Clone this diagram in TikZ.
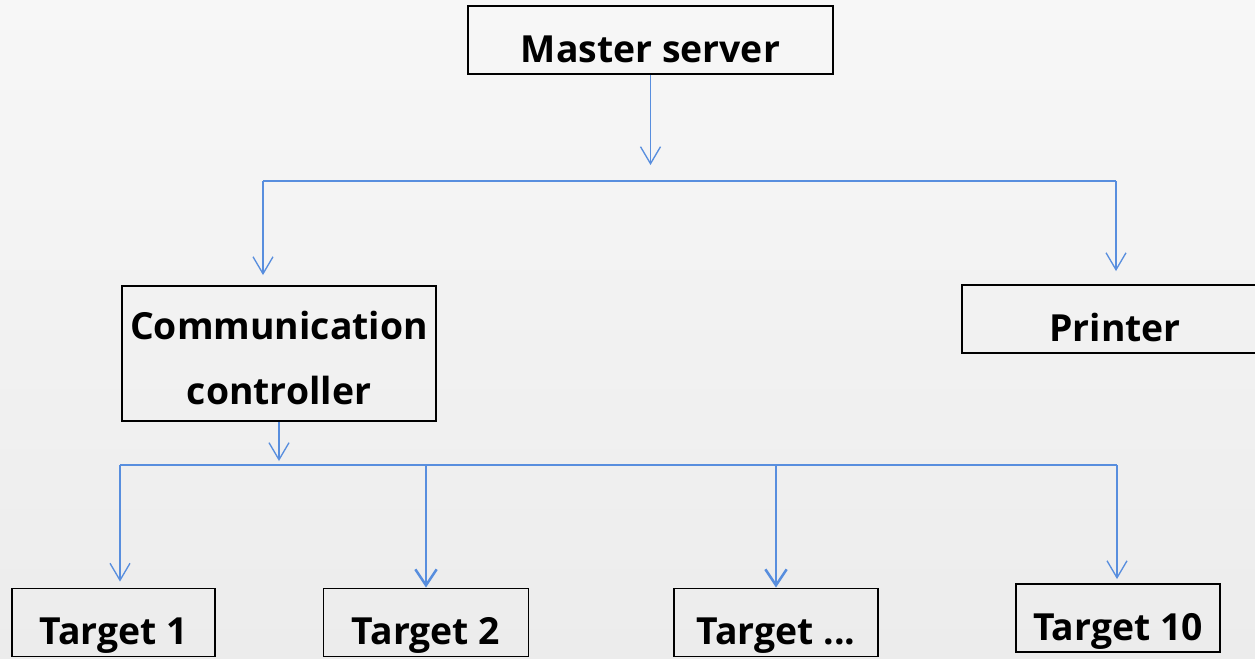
\documentclass[tikz,border=0pt]{standalone}
\usepackage{fontspec}
\setmainfont{Open Sans}
\usetikzlibrary{arrows.meta}
\definecolor{lineblue}{RGB}{88,142,222}
\definecolor{bgtop}{RGB}{247,247,247}
\definecolor{bgbot}{RGB}{236,236,236}
\begin{document}
\begin{tikzpicture}[x=0.75pt,y=-0.75pt,
  box/.style={draw=black,line width=1.4pt,font={\fontsize{28}{34}\selectfont\bfseries},
    inner ysep=0pt,inner xsep=2pt,text height=42pt,text depth=9pt},
  cbox/.style={draw=black,line width=1.4pt,font={\fontsize{28}{48.5}\selectfont\bfseries},
    align=center,inner sep=2pt,minimum width=235.5pt,minimum height=101.25pt},
  bus/.style={draw=lineblue,line width=1.1pt},
  arr/.style={draw=lineblue,line width=1pt,-{Straight Barb[length=12.75pt,width=15pt]}},
  arrthick/.style={draw=lineblue,line width=1.9pt,-{Straight Barb[length=12pt,width=16pt]}}]
\shade[top color=bgtop,bottom color=bgbot] (0,0) rectangle (1255,658);
\useasboundingbox (0,0) rectangle (1255,658);

\node[box,minimum width=273.75pt] (ms) at (650.5,40) {Master server};
\node[cbox] (cc) at (279,353.5) {\rule{0pt}{28pt}Communication\\controller};
\node[box,minimum width=229.5pt] (pr) at (1115,319) {Printer};
\node[box,minimum width=152.25pt] (t1) at (113.5,622.5) {Target 1};
\node[box,minimum width=153.75pt] (t2) at (426,622.5) {Target 2};
\node[box,minimum width=153pt] (t3) at (776,622.5) {Target ...};
\node[box,minimum width=153pt] (t4) at (1118,618) {Target 10};

\coordinate (b1l) at (263,181);
\coordinate (b1r) at (1116,181);
\coordinate (b2l) at (120,465);
\coordinate (b2r) at (1117,465);

\draw[arr,shorten >=12pt] (ms.south) -- (ms.south |- b1l);
\draw[bus] (b1l) -- (b1r);
\draw[arr,shorten >=7.5pt] (b1l) -- (b1l |- cc.north);
\draw[arr,shorten >=9.75pt] (b1r) -- (b1r |- pr.north);
\draw[arr,shorten >=3pt] (cc.south) -- (cc.south |- b2l);
\draw[bus] (b2l) -- (b2r);
\draw[arr,shorten >=4.5pt] (b2l) -- (b2l |- t1.north);
\draw[arrthick] (t2.north |- b2l) -- (t2.north);
\draw[arrthick] (t3.north |- b2l) -- (t3.north);
\draw[arr,shorten >=3pt] (b2r) -- (b2r |- t4.north);
\end{tikzpicture}
\end{document}
